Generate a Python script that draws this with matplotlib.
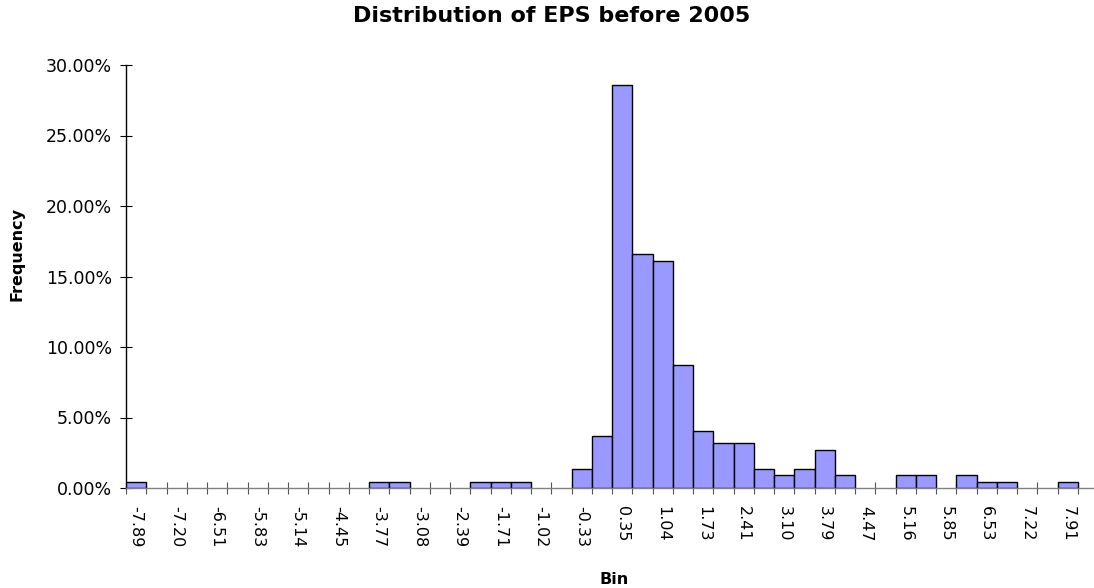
import numpy as np
import matplotlib
matplotlib.use("Agg")
import matplotlib.pyplot as plt
from matplotlib.ticker import FuncFormatter

# bin labels shown on the axis (every other bin)
bin_labels = ["-7.89", "-7.20", "-6.51", "-5.83", "-5.14", "-4.45", "-3.77", "-3.08",
              "-2.39", "-1.71", "-1.02", "-0.33", "0.35", "1.04", "1.73", "2.41",
              "3.10", "3.79", "4.47", "5.16", "5.85", "6.53", "7.22", "7.91"]

# frequency (%) for each of the 47 bins
freq_pct = [0.45, 0, 0, 0, 0, 0, 0, 0, 0, 0, 0, 0,
            0.45, 0.45, 0, 0, 0, 0.45, 0.45, 0.45, 0, 0,
            1.35, 3.71, 28.55, 16.57, 16.07, 8.74, 4.07, 3.17, 3.17,
            1.35, 0.90, 1.35, 2.72, 0.90, 0, 0, 0.90, 0.90, 0,
            0.90, 0.45, 0.45, 0, 0, 0.45]

W, H = 1094, 588
fig = plt.figure(figsize=(W / 100, H / 100), dpi=100)

left, right, top, bottom = 126, 1094, 65, 488
ax = fig.add_axes([left / W, 1 - bottom / H, (right - left) / W, (bottom - top) / H])

n_bins = len(freq_pct)
x = np.arange(n_bins)
h = np.array(freq_pct)
mask = h > 0
ax.bar(x[mask], h[mask], width=1.0, align="edge", color="#9999FF",
       edgecolor="black", linewidth=1.0, zorder=3)

px_per_bin = (1078 - 126) / n_bins
ax.set_xlim(0, n_bins + (right - 1078) / px_per_bin)
ax.set_ylim(0, 30)

# y axis
ax.set_yticks(np.arange(0, 31, 5))
ax.yaxis.set_major_formatter(FuncFormatter(lambda v, p: f"{v:.2f}%"))
ax.tick_params(axis="y", direction="inout", length=8, width=0.8, pad=6,
               labelsize=12.5, color="black")

# x axis: marks on bin edges, labels at centres of every other bin
ax.set_xticks(np.arange(0, n_bins + 1), minor=True)
ax.set_xticks(np.arange(0, n_bins, 2) + 0.5)
ax.set_xticklabels(bin_labels, rotation=-90, ha="center", va="top")
ax.tick_params(axis="x", which="major", length=0, pad=13, labelsize=11.5)
ax.tick_params(axis="x", which="minor", direction="inout", length=8,
               width=0.8, color="#555555")

ax.spines["top"].set_visible(False)
ax.spines["right"].set_visible(False)
ax.spines["left"].set_color("black")
ax.spines["left"].set_linewidth(1.0)
ax.spines["bottom"].set_color("#808080")
ax.spines["bottom"].set_linewidth(1.0)
ax.spines["bottom"].set_zorder(4)

fig.text(552 / W, 1 - 16 / H, "Distribution of EPS before 2005",
         ha="center", va="center", fontsize=16, fontweight="bold")
fig.text(17 / W, 1 - 254 / H, "Frequency", rotation=90,
         ha="center", va="center", fontsize=11.5, fontweight="bold")
fig.text(614 / W, 1 - 579 / H, "Bin",
         ha="center", va="center", fontsize=11.5, fontweight="bold")

fig.savefig("out.png", dpi=100)
